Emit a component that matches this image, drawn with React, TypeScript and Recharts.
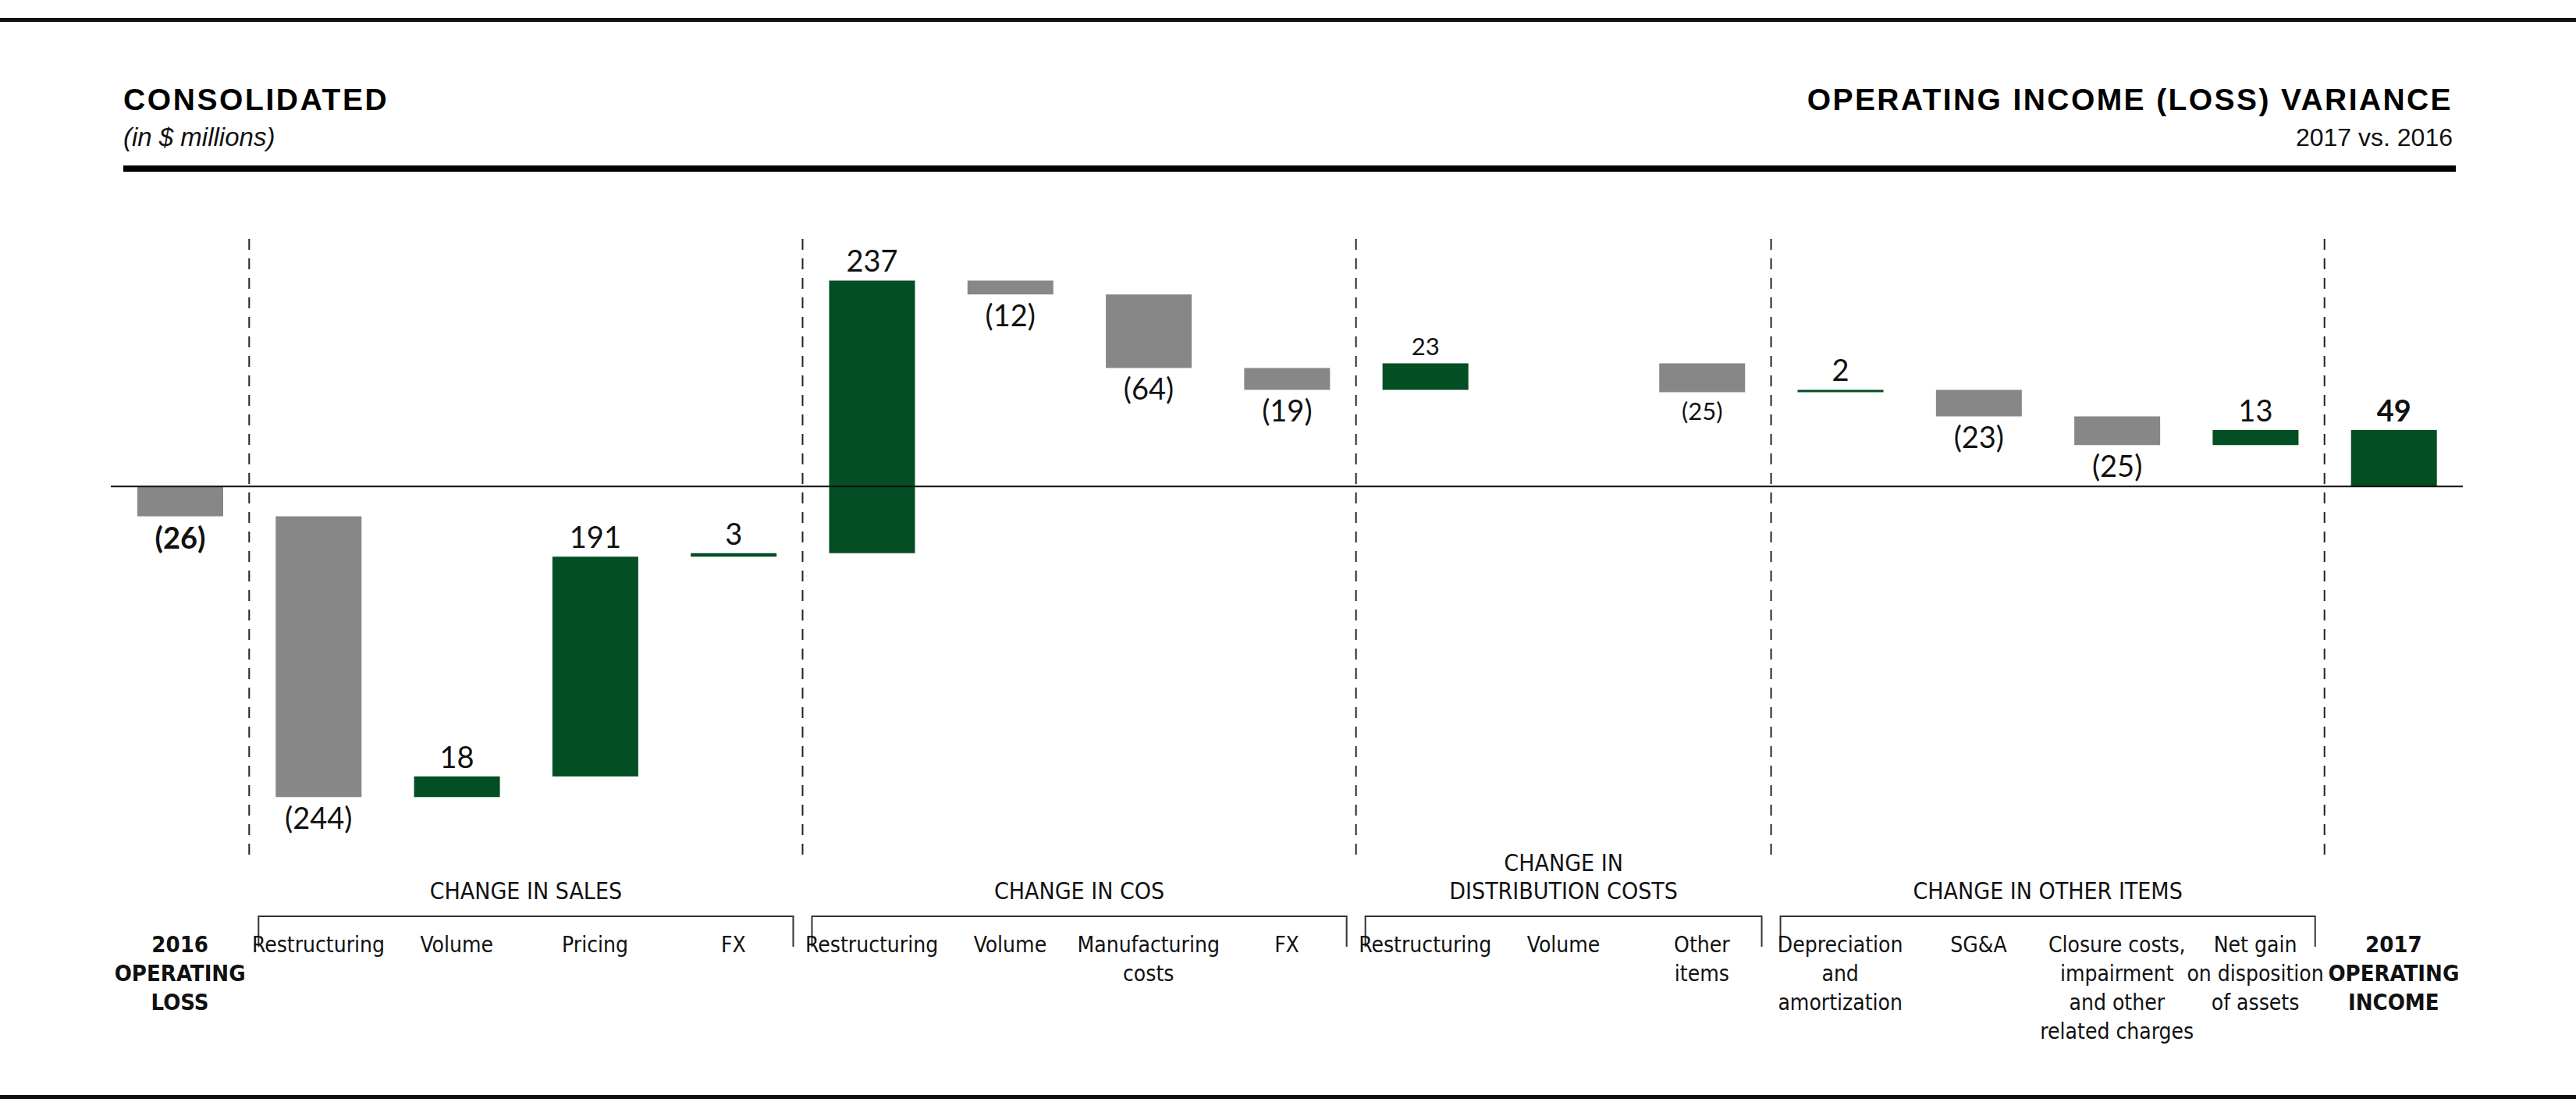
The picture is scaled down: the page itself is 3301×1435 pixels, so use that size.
import { BarChart, Bar, XAxis, YAxis, ReferenceLine, LabelList, Cell } from "recharts";

// ---- data (in $ millions) ----
const categories = [
  "2016 Operating Loss",
  "Sales Restructuring",
  "Sales Volume",
  "Pricing",
  "Sales FX",
  "COS Restructuring",
  "COS Volume",
  "Manufacturing costs",
  "COS FX",
  "Distribution Restructuring",
  "Distribution Volume",
  "Other items",
  "Depreciation and amortization",
  "SG&A",
  "Closure costs",
  "Net gain on disposition",
  "2017 Operating Income",
];
const changes = [-26, -244, 18, 191, 3, 237, -12, -64, -19, 23, 0, -25, 2, -23, -25, 13, 49];
const totals = [true, false, false, false, false, false, false, false, false, false, false, false, false, false, false, false, true];

const tickLines = [
  ["2016", "OPERATING", "LOSS"],
  ["Restructuring"],
  ["Volume"],
  ["Pricing"],
  ["FX"],
  ["Restructuring"],
  ["Volume"],
  ["Manufacturing", "costs"],
  ["FX"],
  ["Restructuring"],
  ["Volume"],
  ["Other", "items"],
  ["Depreciation", "and", "amortization"],
  ["SG&A"],
  ["Closure costs,", "impairment", "and other", "related charges"],
  ["Net gain", "on disposition", "of assets"],
  ["2017", "OPERATING", "INCOME"],
];

const groupTitles = [["CHANGE IN SALES"], ["CHANGE IN COS"], ["CHANGE IN", "DISTRIBUTION COSTS"], ["CHANGE IN OTHER ITEMS"]];
const groupSpans = [[1, 5], [5, 9], [9, 12], [12, 16]];
const dividers = [1, 5, 9, 12, 16];

// ---- layout ----
const W = 3301;
const H = 1435;
const MARGIN = { top: 299, right: 145, left: 142, bottom: 35 };
const BAND = (W - MARGIN.left - MARGIN.right) / categories.length;
const GREEN = "#034e23";
const GRAY = "#878787";
const NARROW = "'Liberation Sans Narrow', 'DejaVu Sans Condensed', 'Roboto Condensed', sans-serif";
const LABEL_FONT = "Lato, 'Liberation Sans', sans-serif";
const HEAD_FONT = "'Liberation Sans', Arial, sans-serif";
const compactLabels = new Set([9, 11]);

let running = 0;
const chartData = categories.map((name, i) => {
  const v = changes[i];
  let lo: number;
  let hi: number;
  if (totals[i]) {
    lo = Math.min(0, v);
    hi = Math.max(0, v);
    running = v;
  } else {
    const end = running + v;
    lo = Math.min(running, end);
    hi = Math.max(running, end);
    running = end;
  }
  return { name, change: v, range: [lo, hi] };
});

function fmt(v: number) {
  return v < 0 ? `(${Math.abs(v)})` : `${v}`;
}

function ValueLabel(props: any) {
  const { x, y, width, height, value } = props;
  const index = categories.indexOf(value);
  if (index < 0) return null;
  const v = changes[index];
  if (!v) return null;
  const top = Math.min(y, y + height);
  const bottom = Math.max(y, y + height);
  const cx = x + width / 2;
  const compact = compactLabels.has(index);
  const ty = v > 0 ? top - 11 : bottom + (compact ? 36 : 41);
  return (
    <text
      x={cx}
      y={ty}
      textAnchor="middle"
      fontFamily={LABEL_FONT}
      fontSize={compact ? 31 : 38}
      fontWeight={totals[index] ? 700 : 400}
      fill="#111"
    >
      {fmt(v)}
    </text>
  );
}

// category labels, plus the group title and bracket drawn from the first tick of each group
function CategoryTick(props: any) {
  const { x, y, payload } = props;
  const i = categories.indexOf(payload.value);
  const lines = tickLines[i] || [];
  const bold = totals[i];
  const gi = groupSpans.findIndex(([a]) => a === i);
  let group = null;
  if (gi >= 0) {
    const [a, b] = groupSpans[gi];
    const gx = x - BAND / 2 + ((b - a) * BAND) / 2;
    const half = ((b - a) * BAND) / 2 - 12;
    const titles = groupTitles[gi];
    group = (
      <g>
        <text
          x={gx}
          y={y + 57 - (titles.length - 1) * 36}
          textAnchor="middle"
          fontFamily={NARROW}
          fontSize={30}
          fill="#111"
        >
          {titles.map((l, k) => (
            <tspan key={k} x={gx} dy={k === 0 ? 0 : 36}>
              {l}
            </tspan>
          ))}
        </text>
        <path
          d={`M${gx - half},${y + 118} V${y + 79} H${gx + half} V${y + 118}`}
          stroke="#333"
          strokeWidth={2}
          fill="none"
        />
      </g>
    );
  }
  return (
    <g>
      {group}
      <text
        x={x}
        y={y + 125}
        textAnchor="middle"
        fontFamily={NARROW}
        fontSize={bold ? 29 : 28}
        fontWeight={bold ? 700 : 400}
        fill="#111"
      >
        {lines.map((l, k) => (
          <tspan key={k} x={x} dy={k === 0 ? 0 : 37}>
            {l}
          </tspan>
        ))}
      </text>
    </g>
  );
}

export default function App() {
  return (
    <div style={{ position: "absolute", left: 0, top: 0, width: W, height: H, background: "#fff" }}>
      <svg width={W} height={H} style={{ position: "absolute", left: 0, top: 0 }}>
        <rect x={0} y={23} width={W} height={5} fill="#111" />
        <text x={158} y={141} fontFamily={HEAD_FONT} fontWeight={700} fontSize={39} letterSpacing={2.6} fill="#000">
          CONSOLIDATED
        </text>
        <text x={158} y={187} fontFamily={HEAD_FONT} fontStyle="italic" fontSize={33} fill="#111">
          (in $ millions)
        </text>
        <text x={3143} y={141} textAnchor="end" fontFamily={HEAD_FONT} fontWeight={700} fontSize={39} letterSpacing={2.4} fill="#000">
          OPERATING INCOME (LOSS) VARIANCE
        </text>
        <text x={3143} y={187} textAnchor="end" fontFamily={HEAD_FONT} fontSize={32} fill="#111">
          2017 vs. 2016
        </text>
        <rect x={158} y={212} width={2989} height={8} fill="#000" />
        <rect x={0} y={1403} width={W} height={5} fill="#111" />
      </svg>
      <div style={{ position: "absolute", left: 0, top: 0 }}>
        <BarChart width={W} height={H} data={chartData} margin={MARGIN}>
          <XAxis
            dataKey="name"
            interval={0}
            height={305}
            axisLine={false}
            tickLine={false}
            tickSize={0}
            tickMargin={0}
            tick={<CategoryTick />}
          />
          <YAxis hide type="number" domain={[-320, 220]} allowDataOverflow />
          {dividers.map((d) => (
            <ReferenceLine
              key={d}
              x={categories[d]}
              position="start"
              stroke="#222"
              strokeWidth={2}
              strokeDasharray="14 11"
            />
          ))}
          <Bar dataKey="range" barSize={110} isAnimationActive={false}>
            {chartData.map((d, i) => (
              <Cell key={i} fill={changes[i] >= 0 ? GREEN : GRAY} />
            ))}
            <LabelList dataKey="name" content={<ValueLabel />} />
          </Bar>
          <ReferenceLine y={0} stroke="#111" strokeWidth={2} />
        </BarChart>
      </div>
    </div>
  );
}
